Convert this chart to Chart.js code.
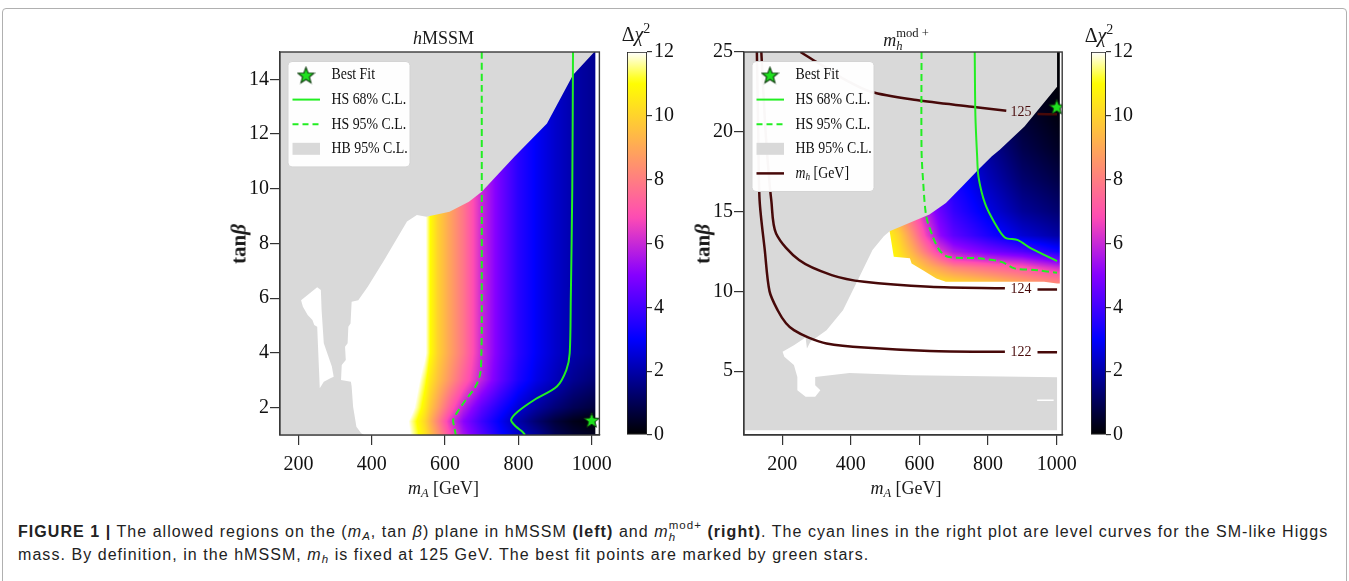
<!DOCTYPE html>
<html>
<head>
<meta charset="utf-8">
<title>Allowed regions in the (mA, tanβ) plane</title>
<script src="https://cdn.jsdelivr.net/npm/chart.js@4.4.1/dist/chart.umd.min.js"></script>
<style>
  html, body { margin: 0; padding: 0; background: #fff; }
  body { width: 1349px; height: 581px; position: relative; overflow: hidden;
         font-family: 'Liberation Serif', 'Times New Roman', serif; color: #1a1a1a; }
  .frame { position: absolute; left: 2px; top: 8px; width: 1343px; height: 600px;
           border: 1px solid #b0b0b0; border-radius: 4px; }
  canvas { position: absolute; top: 0; }
  .lbl { position: absolute; transform: translate(-50%, -50%); white-space: nowrap; line-height: 1; font-size: 18px; }
  .ytitle { font-weight: bold; font-size: 21px; transform: translate(-50%, -50%) rotate(-90deg); }
  .cbt { font-size: 20px; }
  .lbl sub { font-size: 0.7em; vertical-align: -0.25em; line-height: 0; }
  .lbl sup { font-size: 0.7em; vertical-align: 0.55em; line-height: 0; }
  .ss { display: inline-block; vertical-align: -0.28em; font-size: 0.7em; line-height: 1; }
  .ss > span { display: block; text-align: left; }
  #caption { position: absolute; left: 18px; top: 520px; font-family: 'Liberation Sans', Arial, sans-serif;
             font-size: 16px; letter-spacing: 1.05px; line-height: 23px; color: #222; white-space: nowrap; }
  #caption sub { font-size: 0.72em; vertical-align: -0.3em; line-height: 0; }
  #caption .ss { vertical-align: -0.3em; font-size: 0.72em; }
</style>
</head>
<body>
<div class="frame"></div>

<canvas id="hmssm" width="400" height="480" style="left:220px"></canvas>
<canvas id="hmssmBar" width="60" height="480" style="left:620px"></canvas>
<canvas id="mhmod" width="395" height="480" style="left:690px"></canvas>
<canvas id="mhmodBar" width="60" height="480" style="left:1085px"></canvas>

<div class="lbl" style="left:443.5px; top:38px"><i>h</i>MSSM</div>
<div class="lbl" style="left:906px; top:40px"><i>m</i><span class="ss"><span>mod +</span><span><i>h</i></span></span></div>
<div class="lbl" style="left:443.5px; top:488px"><i>m</i><sub><i>A</i></sub> [GeV]</div>
<div class="lbl" style="left:906px; top:488px"><i>m</i><sub><i>A</i></sub> [GeV]</div>
<div class="lbl ytitle" style="left:239px; top:244px">tan<i>β</i></div>
<div class="lbl ytitle" style="left:703px; top:244px">tan<i>β</i></div>
<div class="lbl cbt" style="left:636px; top:34px">Δ<i>χ</i><sup>2</sup></div>
<div class="lbl cbt" style="left:1099px; top:35px">Δ<i>χ</i><sup>2</sup></div>

<div id="caption"><b>FIGURE 1 |</b> The allowed regions on the (<i>m<sub>A</sub></i>, tan <i>β</i>) plane in hMSSM <b>(left)</b> and <i>m</i><span class="ss"><span>mod+</span><span><i>h</i></span></span> <b>(right)</b>. The cyan lines in the right plot are level curves for the SM-like Higgs<br>mass. By definition, in the hMSSM, <i>m<sub>h</sub></i> is fixed at 125 GeV. The best fit points are marked by green stars.</div>

<script>
// ---------- hMSSM panel ----------
const hmXTicks = [200, 400, 600, 800, 1000];
const hmYTicks = [2, 4, 6, 8, 10, 12, 14];

// Δχ² sampled on an (mA, tanβ) grid, one row per hmGridTanB entry
const hmGridMA = [150, 500, 545, 560, 580, 610, 650, 700, 750, 800, 850, 900, 950, 1010];
const hmGridTanB = [1, 1.5, 2, 3, 4, 15];
const hmChi2 = [
  [14, 12.2, 10.4, 9.6, 8.6, 7.0, 5.5, 4.3, 3.2, 2.4, 1.8, 1.0, 0.6, 0.35],
  [14, 12.0, 10.1, 9.2, 8.1, 6.5, 5.1, 3.9, 2.9, 2.0, 1.3, 0.7, 0.3, 0.05],
  [14, 12.8, 10.6, 9.7, 8.8, 7.4, 5.8, 4.4, 3.4, 2.5, 1.9, 1.4, 1.0, 0.7],
  [14, 13.5, 11.3, 10.4, 9.6, 8.6, 7.3, 5.8, 4.5, 3.4, 2.7, 2.2, 1.7, 1.35],
  [14, 14, 12.2, 11, 10, 9, 7.8, 6.0, 4.7, 3.6, 2.9, 2.4, 2.0, 1.7],
  [14, 14, 12.2, 11, 10, 9, 7.8, 6.0, 4.7, 3.6, 2.9, 2.4, 2.0, 1.7]
];

// HiggsBounds 95% C.L. excluded area
const hmHBMA = [150, 1007, 949, 878, 789, 700, 665, 612, 549, 523, 496, 434, 389, 363, 345, 342, 336, 334, 327, 329, 318, 316, 343, 345, 349, 358, 371, 379, 150];
const hmHBTanB = [15, 15, 14.16, 12.39, 11.17, 9.89, 9.53, 9.16, 8.98, 9.04, 8.8, 7.4, 6.42, 5.93, 5.87, 5.08, 4.96, 4.35, 4.23, 3.74, 3.56, 3.01, 2.95, 2.77, 2.03, 1.3, 1.06, 1, 1];
// allowed pocket inside the excluded area
const hmPocketMA = [207, 251, 261, 263, 269, 291, 296, 287, 269, 258, 254, 251, 243, 238, 225, 212];
const hmPocketTanB = [5.93, 6.4, 6.3, 5.57, 4.35, 3.5, 3.13, 3.07, 2.95, 2.71, 3.99, 4.96, 5.02, 5.2, 5.39, 5.69];

// HiggsSignals contours
const hmHS68MA = [949, 947, 943, 940, 931, 905, 843, 798, 780, 794, 811, 818];
const hmHS68TanB = [15, 10, 6, 3.99, 3.38, 2.77, 2.28, 1.85, 1.55, 1.3, 1.12, 1.0];
const hmHS95MA = [700, 700, 699, 696, 683, 656, 634, 622, 625, 629];
const hmHS95TanB = [15, 5, 3.99, 3.25, 2.77, 2.28, 1.85, 1.55, 1.3, 1.0];
const hmBestMA = [1000];
const hmBestTanB = [1.55];

// ---------- m_h^mod+ panel ----------
const mmXTicks = [200, 400, 600, 800, 1000];
const mmYTicks = [5, 10, 15, 20, 25];

const mmGridMA = [500, 540, 580, 620, 660, 700, 800, 900, 1009];
const mmGridTanB = [10.5, 11, 11.5, 12, 12.5, 13.5, 15, 17, 19, 21, 25];
const mmChi2 = [
  [12.5, 11.5, 11.0, 10.6, 10.4, 10.2, 9.8, 9.0, 8.2],
  [12.2, 11.2, 10.6, 10.0, 9.6, 9.2, 8.6, 8.0, 7.2],
  [11.8, 10.9, 10.2, 9.4, 8.8, 8.2, 7.6, 7.0, 6.0],
  [11.5, 10.6, 9.7, 8.7, 7.6, 6.6, 6.0, 5.6, 4.6],
  [11.3, 10.4, 9.2, 7.8, 6.4, 5.6, 4.8, 4.2, 3.2],
  [11.0, 10.0, 8.4, 6.6, 5.2, 4.4, 3.4, 2.5, 1.9],
  [10.0, 8.8, 7.2, 5.8, 4.6, 3.8, 2.7, 1.8, 1.3],
  [9.0, 7.8, 6.4, 5.2, 4.1, 3.3, 2.2, 1.3, 0.8],
  [8.2, 7.0, 5.8, 4.7, 3.7, 2.9, 1.8, 0.9, 0.4],
  [7.6, 6.5, 5.4, 4.4, 3.4, 2.6, 1.5, 0.6, 0.15],
  [7.0, 6.0, 5.0, 4.0, 3.1, 2.3, 1.2, 0.4, 0.0]
];
// extent of the scanned points with a Δχ² value
const mmScanMA = [505, 1009, 1009, 1001, 963, 677, 649, 610, 577, 572, 525, 513, 505];
const mmScanTanB = [25, 25, 10.5, 10.5, 10.6, 10.6, 10.81, 11.33, 11.75, 12.07, 12.17, 13.77, 14.0];

const mmHBMA = [88, 1001, 1001, 906, 834, 811, 772, 725, 677, 629, 582, 513, 496, 463, 425, 377, 329, 282, 272, 268, 234, 201, 206, 234, 244, 244, 268, 296, 311, 296, 296, 396, 577, 1001, 1001, 88];
const mmHBTanB = [25, 25, 22.83, 20.33, 18.87, 18.46, 17.63, 16.58, 15.54, 14.81, 14.39, 13.77, 13.46, 12.59, 10.91, 8.82, 7.57, 6.84, 6.42, 7.11, 6.63, 6.21, 5.9, 5.38, 4.64, 3.81, 3.39, 3.39, 3.81, 4.12, 4.64, 4.89, 4.75, 4.62, 1.3, 1.3];
const mmSliverMA = [943, 991];
const mmSliverTanB = [3.18, 3.18];

const mmHS68MA = [761, 763, 768, 772, 791, 820, 849, 887, 925, 1001];
const mmHS68TanB = [25, 21, 18.5, 17.18, 15.51, 14.26, 13.38, 13.21, 12.69, 11.9];
const mmHS95MA = [606, 606, 611, 620, 639, 658, 682, 772, 839, 877, 944, 1001];
const mmHS95TanB = [25, 18.86, 16.77, 14.67, 13.42, 12.59, 12.17, 12.07, 11.85, 11.44, 11.33, 11.16];
const mmBestMA = [1000];
const mmBestTanB = [21.58];

// m_h level curves; the null entry marks where the level label sits
const mhLevels = ['125', '124', '122'];
const mh125MA = [253, 290, 323, 380, 458, 591, 753, 853, 896, 944, 1001];
const mh125TanB = [25, 24.5, 24.08, 23.3, 22.51, 21.99, 21.57, 21.32, null, 21.11, 21.1];
const mh124MA = [139, 150, 160, 168, 182, 249, 344, 439, 630, 849, 896, 944, 1001];
const mh124TanB = [25, 20.5, 17.5, 15.72, 13.63, 11.96, 11.02, 10.6, 10.29, 10.19, null, 10.12, 10.12];
const mh122MA = [126, 130, 134, 149, 163, 187, 211, 234, 277, 329, 439, 630, 849, 896, 944, 1001];
const mh122TanB = [25, 20, 15.7, 12.6, 10.0, 8.8, 8.0, 7.57, 7.1, 6.74, 6.48, 6.27, 6.21, null, 6.19, 6.19];

const chi2Ticks = [0, 2, 4, 6, 8, 10, 12];
const CHI2_MAX = 12;

const GRAY = 'rgb(217,217,217)';
const GREEN = '#22ee22';
const MAROON = '#470909';
const AXIS = '#333';
const tickFont = { family: "'Liberation Serif', 'Times New Roman', serif", size: 20 };

// gnuplot2 colour map
function clamp01(v) { return v < 0 ? 0 : v > 1 ? 1 : v; }
function gnuplot2(t) {
  t = clamp01(t);
  const r = clamp01(t / 0.32 - 0.78125);
  const g = clamp01(2 * t - 0.84);
  let b;
  if (t < 0.25) b = 4 * t;
  else if (t < 0.42) b = 1;
  else if (t < 0.92) b = -2 * t + 1.84;
  else b = t / 0.08 - 11.5;
  b = clamp01(b);
  return [Math.round(r * 255), Math.round(g * 255), Math.round(b * 255)];
}

function bracket(axis, v) {
  const n = axis.length;
  if (v <= axis[0]) return [0, 0];
  for (let i = 0; i < n - 1; i++) {
    if (v <= axis[i + 1]) return [i, (v - axis[i]) / (axis[i + 1] - axis[i])];
  }
  return [n - 2, 1];
}
function chi2At(field, m, t) {
  const [i, fx] = bracket(field.mA, m);
  const [j, fy] = bracket(field.tanB, t);
  const tb = field.chi2;
  const lo = tb[j][i] * (1 - fx) + tb[j][i + 1] * fx;
  const hi = tb[j + 1][i] * (1 - fx) + tb[j + 1][i + 1] * fx;
  return lo * (1 - fy) + hi * fy;
}

// the Δχ² map rendered over the plot area, used as a fill pattern
function heatFill(field) {
  return function (context) {
    const chart = context.chart;
    const area = chart.chartArea;
    if (!area) return 'rgba(0,0,0,0)';
    const key = [area.left, area.top, area.right, area.bottom].join();
    if (field.cache && field.cache.key === key) return field.cache.pattern;
    const xs = chart.scales.x, ys = chart.scales.y;
    const off = document.createElement('canvas');
    off.width = chart.width;
    off.height = chart.height;
    const octx = off.getContext('2d');
    const x0 = Math.floor(area.left), x1 = Math.ceil(area.right);
    const y0 = Math.floor(area.top), y1 = Math.ceil(area.bottom);
    const img = octx.createImageData(x1 - x0, y1 - y0);
    let k = 0;
    for (let py = y0; py < y1; py++) {
      const t = ys.getValueForPixel(py + 0.5);
      for (let px = x0; px < x1; px++) {
        const m = xs.getValueForPixel(px + 0.5);
        const c = gnuplot2(chi2At(field, m, t) / CHI2_MAX);
        img.data[k++] = c[0]; img.data[k++] = c[1]; img.data[k++] = c[2]; img.data[k++] = 255;
      }
    }
    octx.putImageData(img, x0, y0);
    const pattern = chart.ctx.createPattern(off, 'no-repeat');
    field.cache = { key, pattern };
    return pattern;
  };
}

function colorbarFill(context) {
  const chart = context.chart;
  if (!chart.chartArea) return 'rgba(0,0,0,0)';
  const ys = chart.scales.y;
  const grad = chart.ctx.createLinearGradient(0, ys.getPixelForValue(0), 0, ys.getPixelForValue(CHI2_MAX));
  for (let s = 0; s <= 60; s++) {
    const c = gnuplot2(s / 60);
    grad.addColorStop(s / 60, `rgb(${c[0]},${c[1]},${c[2]})`);
  }
  return grad;
}

function starImage(size, lw) {
  const c = document.createElement('canvas');
  c.width = c.height = size;
  const g = c.getContext('2d');
  const R = size / 2 - 1, r = R * 0.42, cx = size / 2, cy = size / 2 + R * 0.1;
  g.beginPath();
  for (let i = 0; i < 10; i++) {
    const a = -Math.PI / 2 + i * Math.PI / 5;
    const rr = i % 2 ? r : R;
    g.lineTo(cx + rr * Math.cos(a), cy + rr * Math.sin(a));
  }
  g.closePath();
  g.fillStyle = '#1fe01f';
  g.fill();
  g.lineWidth = lw;
  g.strokeStyle = '#0b3a0b';
  g.stroke();
  return c;
}
const plotStar = starImage(18, 1);
const legendStar = starImage(19, 1.1);

function pts(ms, ts) { return ms.map((m, i) => ({ x: m, y: ts[i] })); }
function area(ms, ts, fillStyle, order) {
  return { data: pts(ms, ts), backgroundColor: fillStyle, borderColor: 'rgba(0,0,0,0)', borderWidth: 0,
           fill: 'shape', tension: 0, pointRadius: 0, order };
}
function curve(ms, ts, color, width, dash, order) {
  return { data: pts(ms, ts), borderColor: color, borderWidth: width, borderDash: dash, fill: false,
           tension: 0.3, pointRadius: 0, order };
}
function bestFit(ms, ts) {
  return { data: pts(ms, ts), showLine: false, pointStyle: plotStar, pointRadius: 7, order: 0 };
}
function levelLabels(names, curves) {
  return curves.map(([ms, ts], n) => {
    const i = ts.indexOf(null);
    return { text: names[n], x: ms[i], y: (ts[i - 1] + ts[i + 1]) / 2 };
  });
}

// ---------- plugins ----------
const plotFrame = {
  id: 'plotFrame',
  afterDatasetsDraw(chart) {
    const { left, top, right, bottom } = chart.chartArea;
    const ctx = chart.ctx;
    ctx.save();
    ctx.strokeStyle = '#3a3a3a';
    ctx.lineWidth = 1.4;
    ctx.strokeRect(left, top, right - left, bottom - top);
    ctx.restore();
  }
};

const contourLabels = {
  id: 'contourLabels',
  afterDatasetsDraw(chart, args, opts) {
    if (!opts.items) return;
    const ctx = chart.ctx;
    ctx.save();
    ctx.font = '14px "Liberation Serif", serif';
    ctx.fillStyle = MAROON;
    ctx.textAlign = 'center';
    ctx.textBaseline = 'middle';
    for (const it of opts.items) {
      ctx.fillText(it.text, chart.scales.x.getPixelForValue(it.x), chart.scales.y.getPixelForValue(it.y));
    }
    ctx.restore();
  }
};

const LEGEND_SX = 0.84;
function drawRich(ctx, x, y, parts) {
  ctx.save();
  ctx.translate(x, y);
  ctx.scale(LEGEND_SX, 1);
  ctx.fillStyle = '#111';
  ctx.textBaseline = 'middle';
  ctx.textAlign = 'left';
  let cx = 0;
  for (const p of parts) {
    ctx.font = (p.italic ? 'italic ' : '') + (p.sub ? 11 : 16.5) + 'px "Liberation Serif", serif';
    ctx.fillText(p.t, cx, p.sub ? 4 : 0);
    cx += ctx.measureText(p.t).width;
  }
  ctx.restore();
}

const panelLegend = {
  id: 'panelLegend',
  afterDraw(chart, args, opts) {
    const items = opts.items;
    if (!items) return;
    const ctx = chart.ctx, a = chart.chartArea;
    const x = a.left + 8, y = a.top + 9.5, w = 122, row = 24.6;
    const h = items.length * row + 7;
    ctx.save();
    ctx.fillStyle = 'rgba(255,255,255,0.97)';
    ctx.strokeStyle = '#d4d4d4';
    ctx.lineWidth = 1;
    ctx.beginPath();
    ctx.roundRect(x, y, w, h, 4);
    ctx.fill();
    ctx.stroke();
    items.forEach((it, i) => {
      const cy = y + 13.5 + i * row;
      const s0 = x + 4.5, s1 = x + 32;
      if (it.kind === 'star') {
        ctx.drawImage(legendStar, x + 18 - legendStar.width / 2, cy - legendStar.height / 2);
      } else if (it.kind === 'box') {
        ctx.fillStyle = it.color;
        ctx.fillRect(s0, cy - 6, s1 - s0, 12);
      } else {
        ctx.strokeStyle = it.color;
        ctx.lineWidth = it.width;
        ctx.setLineDash(it.dash || []);
        ctx.beginPath();
        ctx.moveTo(s0, cy);
        ctx.lineTo(s1, cy);
        ctx.stroke();
        ctx.setLineDash([]);
      }
      drawRich(ctx, x + 43.5, cy, it.label);
    });
    ctx.restore();
  }
};

const baseLegend = [
  { kind: 'star', label: [{ t: 'Best Fit' }] },
  { kind: 'line', color: GREEN, width: 2, label: [{ t: 'HS 68% C.L.' }] },
  { kind: 'line', color: GREEN, width: 2, dash: [6, 4], label: [{ t: 'HS 95% C.L.' }] },
  { kind: 'box', color: GRAY, label: [{ t: 'HB 95% C.L.' }] }
];

function axisOptions(min, max, ticks, fitKey, fitSize, padding) {
  return {
    type: 'linear', min, max,
    afterBuildTicks: ax => { ax.ticks = ticks.map(v => ({ value: v })); },
    afterFit: s => { s[fitKey] = fitSize; },
    grid: { drawOnChartArea: false, drawTicks: true, tickLength: 10, tickColor: AXIS, lineWidth: 1.2 },
    border: { display: true, color: AXIS, width: 1.2 },
    ticks: { font: tickFont, color: '#111', padding, autoSkip: false, maxRotation: 0, callback: v => String(v) }
  };
}

function panel(id, cfg) {
  return new Chart(document.getElementById(id), {
    type: 'line',
    data: { datasets: cfg.datasets },
    options: {
      responsive: false, animation: false, devicePixelRatio: 1,
      layout: { padding: cfg.padding },
      elements: { point: { radius: 0, hitRadius: 0 } },
      plugins: {
        legend: { display: false },
        tooltip: { enabled: false },
        panelLegend: { items: cfg.legend },
        contourLabels: { items: cfg.labels }
      },
      scales: {
        x: axisOptions(cfg.x[0], cfg.x[1], cfg.xTicks, 'height', 40, 8),
        y: axisOptions(cfg.y[0], cfg.y[1], cfg.yTicks, 'width', 50, 1)
      }
    },
    plugins: [plotFrame, contourLabels, panelLegend]
  });
}

function colorbar(id, padLeft, axisWidth) {
  return new Chart(document.getElementById(id), {
    type: 'bar',
    data: {
      labels: ['Δχ²'],
      datasets: [{ data: [[0, CHI2_MAX]], backgroundColor: colorbarFill, borderColor: '#222', borderWidth: 1.2,
                   borderSkipped: false, barPercentage: 1, categoryPercentage: 1 }]
    },
    options: {
      responsive: false, animation: false, devicePixelRatio: 1,
      layout: { padding: { left: padLeft, top: 52, bottom: 45, right: 0 } },
      plugins: { legend: { display: false }, tooltip: { enabled: false } },
      scales: {
        x: { display: false },
        y: {
          position: 'right', min: 0, max: CHI2_MAX,
          afterBuildTicks: ax => { ax.ticks = chi2Ticks.map(v => ({ value: v })); },
          afterFit: s => { s.width = axisWidth; },
          grid: { drawOnChartArea: false, tickLength: 5, tickColor: AXIS, lineWidth: 1.2 },
          border: { display: false },
          ticks: { font: tickFont, color: '#111', padding: 2 }
        }
      }
    }
  });
}

// ---------- hMSSM ----------
const hmField = { mA: hmGridMA, tanB: hmGridTanB, chi2: hmChi2 };
const hmExtentMA = [hmGridMA[0], hmGridMA[hmGridMA.length - 1], hmGridMA[hmGridMA.length - 1], hmGridMA[0]];
const hmExtentTanB = [hmGridTanB[0], hmGridTanB[0], hmGridTanB[hmGridTanB.length - 1], hmGridTanB[hmGridTanB.length - 1]];

panel('hmssm', {
  padding: { left: 10, top: 52, right: 13, bottom: 5 },
  x: [149.5, 1021], y: [1, 15], xTicks: hmXTicks, yTicks: hmYTicks,
  legend: baseLegend,
  datasets: [
    area(hmExtentMA, hmExtentTanB, heatFill(hmField), 10),
    area(hmHBMA, hmHBTanB, GRAY, 9),
    area(hmPocketMA, hmPocketTanB, heatFill(hmField), 8),
    curve(hmHS95MA, hmHS95TanB, GREEN, 2, [7, 4], 4),
    curve(hmHS68MA, hmHS68TanB, GREEN, 2, [], 3),
    bestFit(hmBestMA, hmBestTanB)
  ]
});
colorbar('hmssmBar', 7, 33);

// ---------- m_h^mod+ ----------
const mmField = { mA: mmGridMA, tanB: mmGridTanB, chi2: mmChi2 };

panel('mhmod', {
  padding: { left: 4, top: 52, right: 16.5, bottom: 5 },
  x: [88.5, 1016], y: [1, 25], xTicks: mmXTicks, yTicks: mmYTicks,
  legend: baseLegend.concat([{ kind: 'line', color: MAROON, width: 2.5,
    label: [{ t: 'm', italic: true }, { t: 'h', italic: true, sub: true }, { t: ' [GeV]' }] }]),
  labels: levelLabels(mhLevels, [[mh125MA, mh125TanB], [mh124MA, mh124TanB], [mh122MA, mh122TanB]]),
  datasets: [
    area(mmScanMA, mmScanTanB, heatFill(mmField), 10),
    area(mmHBMA, mmHBTanB, GRAY, 9),
    curve(mmSliverMA, mmSliverTanB, '#ffffff', 1.5, [], 8),
    curve(mh125MA, mh125TanB, MAROON, 2.5, [], 6),
    curve(mh124MA, mh124TanB, MAROON, 2.5, [], 6),
    curve(mh122MA, mh122TanB, MAROON, 2.5, [], 6),
    curve(mmHS95MA, mmHS95TanB, GREEN, 2, [7, 4], 4),
    curve(mmHS68MA, mmHS68TanB, GREEN, 2, [], 3),
    bestFit(mmBestMA, mmBestTanB)
  ]
});
colorbar('mhmodBar', 6, 39);
</script>
</body>
</html>
